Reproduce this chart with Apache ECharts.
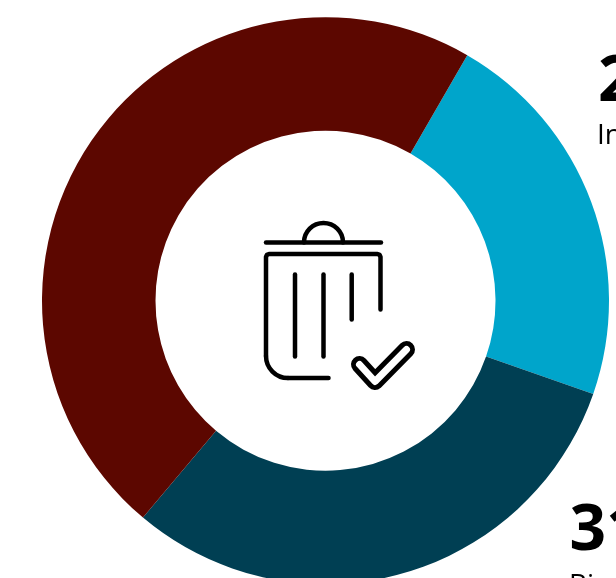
<!DOCTYPE html>
<html><head><meta charset="utf-8">
<style>html,body{margin:0;padding:0;background:#fff;overflow:hidden}#c{width:616px;height:578px}</style>
<script src="https://cdn.jsdelivr.net/npm/echarts@6/dist/echarts.min.js"></script>
</head><body><div id="c"></div>
<script>
const categories = ['Incineration', 'Biogas', 'Landfill'];
const values = [22, 30.8, 47.2];
const colors = ['#00A5CB', '#003F53', '#5C0700'];
const percentLabels = ['22%', '31%'];

const stroke = { stroke: '#000', lineWidth: 4.5, lineCap: 'round', lineJoin: 'round', fill: null };
const big = { fontFamily: 'Open Sans', fontWeight: 'bold', fontSize: 64, fill: '#000' };
const small = { fontFamily: 'Open Sans', fontSize: 28, fill: '#000' };
const bar = (x1, y1, x2, y2) => ({ type: 'line', shape: { x1, y1, x2, y2 }, style: stroke, silent: true });

const chart = echarts.init(document.getElementById('c'), null, { renderer: 'canvas' });
chart.setOption({
  animation: false,
  series: [{
    type: 'pie',
    center: [325.5, 300.7],
    radius: [170, 283.5],
    startAngle: 60,
    clockwise: true,
    silent: true,
    label: { show: false },
    labelLine: { show: false },
    data: categories.map((name, i) => ({ name, value: values[i], itemStyle: { color: colors[i] } }))
  }],
  graphic: [
    bar(266, 242.5, 381, 242.5),
    { type: 'arc', shape: { cx: 323.5, cy: 242.5, r: 19.5, startAngle: Math.PI, endAngle: 0, clockwise: true }, style: stroke, silent: true },
    { type: 'polyline', shape: { points: [[380.5, 309.5], [380.5, 257], [379.6, 254.9], [377.5, 254], [269, 254], [266.9, 254.9], [266, 257], [266, 356]] }, style: stroke, silent: true },
    { type: 'arc', shape: { cx: 288, cy: 356, r: 22, startAngle: Math.PI, endAngle: Math.PI / 2, clockwise: false }, style: stroke, silent: true },
    bar(288, 378, 328.5, 378),
    bar(295, 274.5, 295, 356.5),
    bar(323.5, 274.5, 323.5, 356.5),
    bar(351.7, 274.5, 351.7, 319.5),
    { type: 'polyline', shape: { points: [[359.5, 364.5], [375, 381.5], [406.5, 349.5]] }, style: { stroke: '#000', lineWidth: 17, lineCap: 'round', lineJoin: 'round', fill: null }, silent: true },
    { type: 'polyline', shape: { points: [[359.5, 364.5], [375, 381.5], [406.5, 349.5]] }, style: { stroke: '#fff', lineWidth: 7, lineCap: 'round', lineJoin: 'round', fill: null }, silent: true },
    { type: 'text', x: 598, y: 51, silent: true, style: Object.assign({ text: percentLabels[0] }, big) },
    { type: 'text', x: 597, y: 122, silent: true, style: Object.assign({ text: categories[0] }, small) },
    { type: 'text', x: 569.5, y: 500, silent: true, style: Object.assign({ text: percentLabels[1] }, big) },
    { type: 'text', x: 569, y: 572, silent: true, style: Object.assign({ text: categories[1] }, small) }
  ]
});
</script></body></html>
